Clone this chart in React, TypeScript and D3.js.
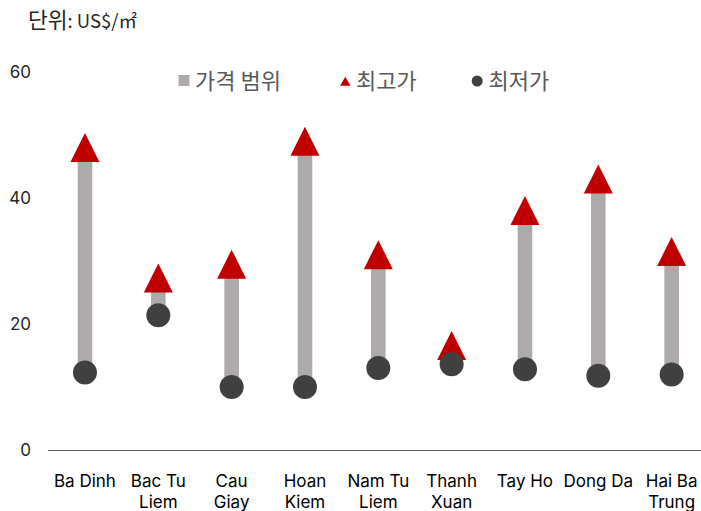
import React from "react";
import * as d3 from "d3";

const categories: string[][] = [
  ["Ba Dinh"],
  ["Bac Tu", "Liem"],
  ["Cau", "Giay"],
  ["Hoan", "Kiem"],
  ["Nam Tu", "Liem"],
  ["Thanh", "Xuan"],
  ["Tay Ho"],
  ["Dong Da"],
  ["Hai Ba", "Trung"],
];
const maxPrice = [48.0, 27.3, 29.5, 49.0, 31.0, 16.6, 38.0, 43.0, 31.5];
const minPrice = [12.3, 21.4, 10.0, 10.0, 13.0, 13.6, 12.8, 11.8, 12.0];
const yTicks = [0, 20, 40, 60];
const legendLabels = ["가격 범위", "최고가", "최저가"];
const unitKr = "단위";
const unitRest = ": US$/㎡";

const W = 701;
const H = 511;

export default function App() {
  const keys = categories.map((c) => c.join(" "));
  const x = d3.scaleBand<string>().domain(keys).range([48.3, 708.3]).padding(0);
  const y = d3.scaleLinear().domain([0, 60]).range([450, 72]);
  const latin = "Inter, 'Noto Sans CJK KR', sans-serif";
  const kr = "'Noto Sans CJK KR', sans-serif";
  const barW = 14.6;
  const triW = 29;
  const triH = 29;
  const r = 12;
  const triPath = (cx: number, cy: number, w: number, h: number) =>
    `M${cx},${cy - h / 2}L${cx + w / 2},${cy + h / 2}L${cx - w / 2},${cy + h / 2}Z`;

  return (
    <svg width={W} height={H} style={{ position: "absolute", left: 0, top: 0 }}>
      <rect width={W} height={H} fill="#fff" />
      <text x={28} y={28} fill="#262626">
        <tspan fontFamily={kr} fontSize={21.5}>{unitKr}</tspan>
        <tspan fontFamily={kr} fontSize={18.5}>{unitRest}</tspan>
      </text>
      {yTicks.map((t) => (
        <text
          key={t}
          x={31}
          y={y(t)}
          dy="0.35em"
          textAnchor="end"
          fontFamily={latin}
          fontSize={17}
          fill="#262626"
        >
          {t}
        </text>
      ))}
      <line x1={48} x2={W} y1={450.5} y2={450.5} stroke="#595959" strokeWidth={1.2} />
      {keys.map((k, i) => {
        const cx = (x(k) as number) + x.bandwidth() / 2;
        return (
          <g key={k}>
            <rect
              x={cx - barW / 2}
              width={barW}
              y={y(maxPrice[i])}
              height={y(minPrice[i]) - y(maxPrice[i])}
              fill="#AEAAAA"
            />
            <path d={triPath(cx, y(maxPrice[i]), triW, triH)} fill="#C00000" />
            <circle cx={cx} cy={y(minPrice[i])} r={r} fill="#404040" />
            {categories[i].map((line, j) => (
              <text
                key={j}
                x={cx}
                y={487 + j * 21}
                textAnchor="middle"
                fontFamily={latin}
                fontSize={17}
                fill="#000"
              >
                {line}
              </text>
            ))}
          </g>
        );
      })}
      {/* legend */}
      <rect x={178.5} y={75} width={11} height={11} fill="#AEAAAA" />
      <text x={195} y={88.5} fontFamily={kr} fontSize={22} fill="#595959">
        {legendLabels[0]}
      </text>
      <path d={triPath(345.3, 81.2, 10.5, 9)} fill="#C00000" />
      <text x={356} y={88.5} fontFamily={kr} fontSize={22} fill="#595959">
        {legendLabels[1]}
      </text>
      <circle cx={477.2} cy={81} r={5.5} fill="#404040" />
      <text x={488.5} y={88.5} fontFamily={kr} fontSize={22} fill="#595959">
        {legendLabels[2]}
      </text>
    </svg>
  );
}
